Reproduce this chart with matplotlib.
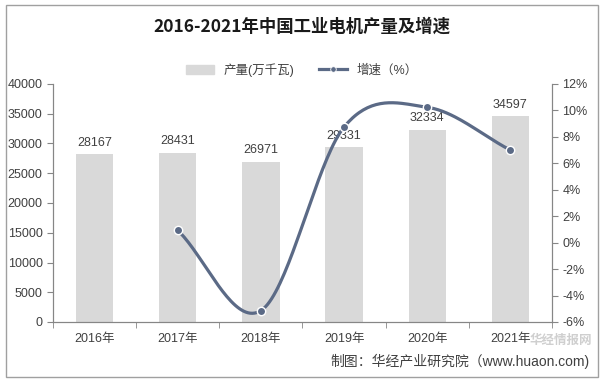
import numpy as np
import matplotlib
matplotlib.use("Agg")
import matplotlib.pyplot as plt
from matplotlib.patches import Rectangle
from matplotlib.lines import Line2D

plt.rcParams['font.family'] = ['Liberation Sans', 'Noto Sans CJK SC', 'DejaVu Sans']

years = ['2016年', '2017年', '2018年', '2019年', '2020年', '2021年']
output = [28167, 28431, 26971, 29331, 32334, 34597]
growth_years = ['2017年', '2018年', '2019年', '2020年', '2021年']
growth = [0.94, -5.14, 8.75, 10.24, 7.0]

bar_color = '#d9d9d9'
line_color = '#5b6a86'
axis_color = '#868686'

fig = plt.figure(figsize=(6.04, 3.82), dpi=100)
ax = fig.add_axes([53/604, 1-322/382, 499/604, 238/382])
ax2 = ax.twinx()

x = np.arange(len(years))
ax.bar(x, output, width=0.45, color=bar_color, zorder=1)
for xi, v in zip(x, output):
    ax.text(xi, v + 900, str(v), ha='center', va='bottom', fontsize=9, color='#404040')

ax.set_xlim(-0.5, len(years) - 0.5)
ax.set_ylim(0, 40000)
ax.set_yticks(np.arange(0, 40001, 5000))
ax.set_xticks(x)
ax.set_xticklabels(years, fontsize=9, color='#404040')
ax.set_xticks(np.arange(-0.5, len(years), 1), minor=True)
ax.tick_params(axis='x', which='major', length=0, pad=8)
ax.tick_params(axis='x', which='minor', length=4, color=axis_color)
ax.tick_params(axis='y', labelsize=9, colors='#404040', length=4, color=axis_color)

# smooth line (Catmull-Rom through data points)
gx = np.array([years.index(y) for y in growth_years], dtype=float)
gy = np.array(growth, dtype=float)
px = np.concatenate([[2*gx[0]-gx[1]], gx, [2*gx[-1]-gx[-2]]])
py = np.concatenate([[2*gy[0]-gy[1]], gy, [2*gy[-1]-gy[-2]]])
sx, sy = [], []
t = np.linspace(0, 1, 40)
for i in range(1, len(px) - 2):
    p0, p1, p2, p3 = [np.array([px[j], py[j]]) for j in (i-1, i, i+1, i+2)]
    for tt in t:
        pt = 0.5 * ((2*p1) + (-p0 + p2)*tt + (2*p0 - 5*p1 + 4*p2 - p3)*tt**2 + (-p0 + 3*p1 - 3*p2 + p3)*tt**3)
        sx.append(pt[0]); sy.append(pt[1])
ax2.plot(sx, sy, color=line_color, lw=2.3, zorder=3, solid_capstyle='round')
ax2.plot(gx, gy, 'o', color=line_color, ms=6, mec='white', mew=1, zorder=4)
ax2.set_ylim(-6, 12)
ax2.set_yticks(np.arange(-6, 13, 2))
ax2.set_yticklabels([f'{v}%' for v in range(-6, 13, 2)])
ax2.tick_params(axis='y', labelsize=9, colors='#404040', length=4, color=axis_color)

for a in (ax, ax2):
    a.spines['top'].set_visible(False)
    for s in ('left', 'right', 'bottom'):
        a.spines[s].set_color(axis_color)
        a.spines[s].set_linewidth(0.8)
ax.set_zorder(ax2.get_zorder() - 1)
ax.patch.set_visible(True)
ax2.patch.set_visible(False)

fig.text(0.5, 1-27/382, '2016-2021年中国工业电机产量及增速', ha='center', va='center',
         fontsize=12.5, fontweight='bold', family=['Noto Sans CJK SC'], color='#1a1a1a')

handles = [Rectangle((0, 0), 1, 1, color=bar_color),
           Line2D([0], [0], color=line_color, lw=2.3, marker='o', ms=4, mec='white', mew=0.6)]
fig.legend(handles, ['产量(万千瓦)', '增速（%）'], loc='center', bbox_to_anchor=(0.5, 1-70/382),
           ncol=2, frameon=False, fontsize=9, handlelength=2.2, columnspacing=2.0,
           labelcolor='#404040')

fig.text(590/604, 1-361/382, '制图：华经产业研究院（www.huaon.com)', ha='right', va='center',
         fontsize=10, color='#404040')
fig.text(592/604, 1-341/382, '华经情报网', ha='right', va='center', fontsize=9,
         fontweight='bold', color='#b0b0b0', alpha=0.6)

fig.patches.append(Rectangle((6/604, 5/382), 592/604, 372/382, transform=fig.transFigure,
                             fill=False, edgecolor='#a0a0a0', lw=1))

fig.savefig('out.png', dpi=100)
